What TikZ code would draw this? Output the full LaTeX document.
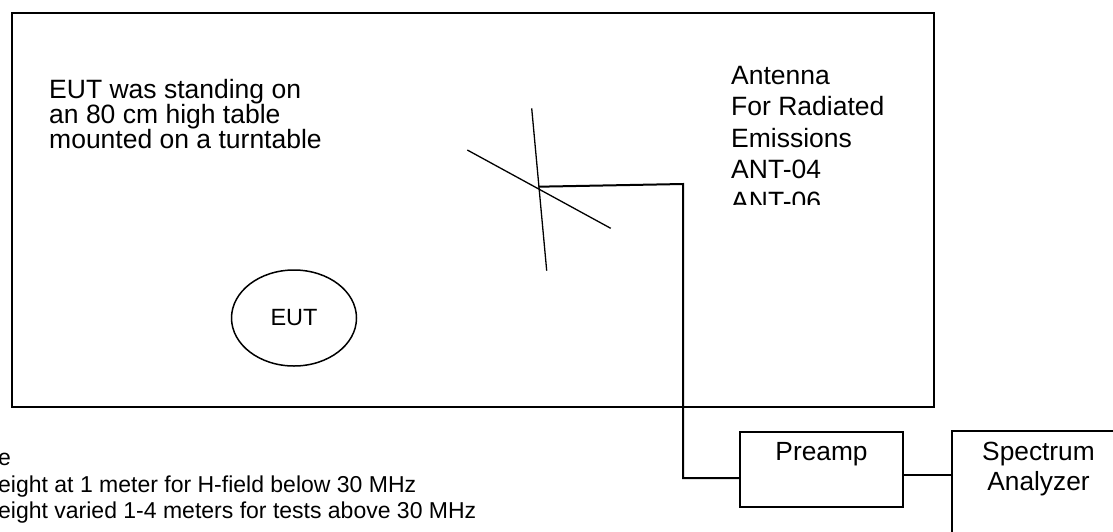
\documentclass[tikz,border=0pt]{standalone}
\usepackage{fontspec}
\setmainfont{Liberation Sans}
\usepackage{tikz}
\usetikzlibrary{shapes.geometric}
\usetikzlibrary{positioning}

\begin{document}
\begin{tikzpicture}[x=1pt,y=-1pt,
	box node/.style={draw, line width=1.3pt, inner sep=0pt},
	note node/.style={inner sep=0pt, align=left, anchor=north west},
	wire/.style={line width=1.3pt}]
			\useasboundingbox (0,0) rectangle (1113,531);
			% Nodes
			\node[box node, line width=2pt, anchor=north west, minimum width=922pt, minimum height=394pt] (room) at (11,12) {};
			\node[note node, font=\fontsize{26.5}{25}\selectfont] (table) at (49,79) {EUT was standing on\\an 80 cm high table\\mounted on a turntable};
			\node[ellipse, draw, line width=1.5pt, minimum width=125pt, minimum height=96pt, inner sep=0pt, font=\fontsize{23.5}{28}\selectfont] (eut) at (294,318) {EUT};
			
			\begin{scope}
				\clip (700,40) rectangle (900,204);
				\node[note node, font=\fontsize{26.5}{31.5}\selectfont] (ant) at (731,66) {Antenna\\For Radiated\\Emissions\\ANT-04\\ANT-06};
			\end{scope}
			
			\node[box node, minimum width=163pt, minimum height=75pt] (pre) at (821.5,469.5) {};
			\node[inner sep=0pt, below=11pt of pre.north, font=\fontsize{26.3}{30}\selectfont] (pretxt) {Preamp};
			\node[box node, minimum width=173pt, minimum height=139pt] (spec) at (1038.5,500.5) {};
			\node[inner sep=0pt, align=center, below=12pt of spec.north, font=\fontsize{26.3}{30}\selectfont] (spectxt) {Spectrum\\Analyzer};
			
			\node[note node, font=\fontsize{23}{26.5}\selectfont] (note) at (-2,453) {e\\eight at 1 meter for H-field below 30 MHz\\eight varied 1-4 meters for tests above 30 MHz};
			
			% antenna and cable
			\coordinate (a1) at (531.7,108.3);
			\coordinate (a2) at (546.7,270.7);
			\coordinate (a3) at (467.3,150);
			\coordinate (a4) at (610.7,228.3);
			\coordinate (feed) at (538.3,186.7);
			\coordinate (c1) at (683,184);
			\coordinate (c2) at (683,478);
			\coordinate (link) at (952,475);
			
			\draw[wire] (a1) -- (a2);
			\draw[wire] (a3) -- (a4);
			\draw[wire, line width=2pt] (feed) -- (c1) -- (c2) -- (c2 -| pre.west);
			\draw[wire] (pre.east |- link) -- (link);
			
		\end{tikzpicture}
\end{document}
